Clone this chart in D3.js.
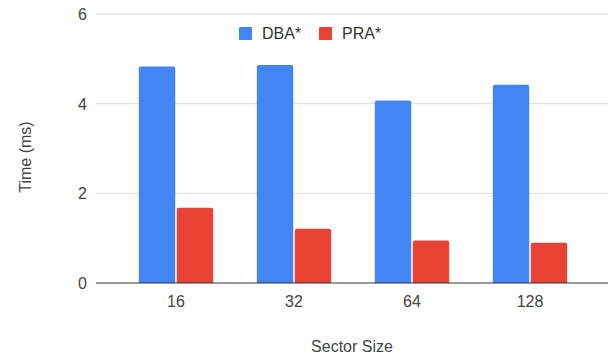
<!DOCTYPE html>
<html>
<head>
<meta charset="utf-8">
<script src="https://cdn.jsdelivr.net/npm/d3@7"></script>
<style>
  body { margin: 0; background: #fff; }
  text { font-family: "Liberation Sans", Arial, sans-serif; }
</style>
</head>
<body>
<svg id="chart"></svg>
<script>
// chart data
var sectorSizes = ["16", "32", "64", "128"];
var seriesNames = ["DBA*", "PRA*"];
var dbaTimes = [4.83, 4.86, 4.07, 4.42];
var praTimes = [1.68, 1.21, 0.95, 0.90];
var yTicks = [0, 2, 4, 6];

var width = 610;
var height = 358;
var colors = ["#4285f4", "#ea4335"];

var svg = d3.select("#chart")
            .attr("width", width)
            .attr("height", height);

var y = d3.scaleLinear()
          .domain([0, 6])
          .range([283, 14]);

var x = d3.scaleBand()
          .domain(sectorSizes)
          .range([117, 589])
          .paddingInner(0.37)
          .paddingOuter(0.185);

var inner = d3.scaleBand()
              .domain(seriesNames)
              .range([0, x.bandwidth()])
              .paddingInner(0.04);

// gridlines
svg.append("g")
   .selectAll("line")
   .data(yTicks.filter(function(d) { return d != 0; }))
   .enter()
   .append("line")
   .attr("x1", 96)
   .attr("x2", 608)
   .attr("y1", function(d) { return y(d); })
   .attr("y2", function(d) { return y(d); })
   .style("stroke", "#dadada")
   .style("stroke-width", 1);

// y labels
svg.append("g")
   .selectAll("text")
   .data(yTicks)
   .enter()
   .append("text")
   .attr("x", 87)
   .attr("y", function(d) { return y(d) + 6; })
   .attr("text-anchor", "end")
   .style("font-size", "16px")
   .style("fill", "#444")
   .text(function(d) { return d; });

// bars
var rows = sectorSizes.map(function(s, i) {
  return { size: s, values: [dbaTimes[i], praTimes[i]] };
});

var groups = svg.append("g")
   .selectAll("g")
   .data(rows)
   .enter()
   .append("g")
   .attr("transform", function(d) { return "translate(" + x(d.size) + ",0)"; });

groups.selectAll("path")
   .data(function(d) { return d.values.map(function(v, j) { return { name: seriesNames[j], value: v, idx: j }; }); })
   .enter()
   .append("path")
   .attr("d", function(d) {
     var x0 = inner(d.name), w = inner.bandwidth();
     var top = y(d.value), bot = y(0), r = 2;
     return "M" + x0 + "," + bot +
            "V" + (top + r) +
            "Q" + x0 + "," + top + " " + (x0 + r) + "," + top +
            "H" + (x0 + w - r) +
            "Q" + (x0 + w) + "," + top + " " + (x0 + w) + "," + (top + r) +
            "V" + bot + "Z";
   })
   .style("fill", function(d) { return colors[d.idx]; });

// baseline
svg.append("line")
   .attr("x1", 96)
   .attr("x2", 608)
   .attr("y1", y(0))
   .attr("y2", y(0))
   .style("stroke", "#333")
   .style("stroke-width", 1);

// x labels
svg.append("g")
   .selectAll("text")
   .data(sectorSizes)
   .enter()
   .append("text")
   .attr("x", function(d) { return x(d) + x.bandwidth() / 2; })
   .attr("y", 307)
   .attr("text-anchor", "middle")
   .style("font-size", "16px")
   .style("fill", "#444")
   .text(function(d) { return d; });

// axis titles
svg.append("text")
   .attr("x", 352)
   .attr("y", 352)
   .attr("text-anchor", "middle")
   .style("font-size", "16px")
   .style("fill", "#444")
   .text("Sector Size");

svg.append("text")
   .attr("transform", "translate(31,157)rotate(-90)")
   .attr("text-anchor", "middle")
   .style("font-size", "16px")
   .style("fill", "#444")
   .text("Time (ms)");

// legend
var legendX = [239, 319];
var legend = svg.append("g")
   .selectAll("g")
   .data(seriesNames)
   .enter()
   .append("g")
   .attr("transform", function(d, i) { return "translate(" + legendX[i] + ",27)"; });

legend.append("rect")
   .attr("width", 13)
   .attr("height", 13)
   .attr("rx", 1)
   .style("fill", function(d, i) { return colors[i]; });

legend.append("text")
   .attr("x", 23)
   .attr("y", 12)
   .style("font-size", "16px")
   .style("fill", "#333")
   .text(function(d) { return d; });
</script>
</body>
</html>
